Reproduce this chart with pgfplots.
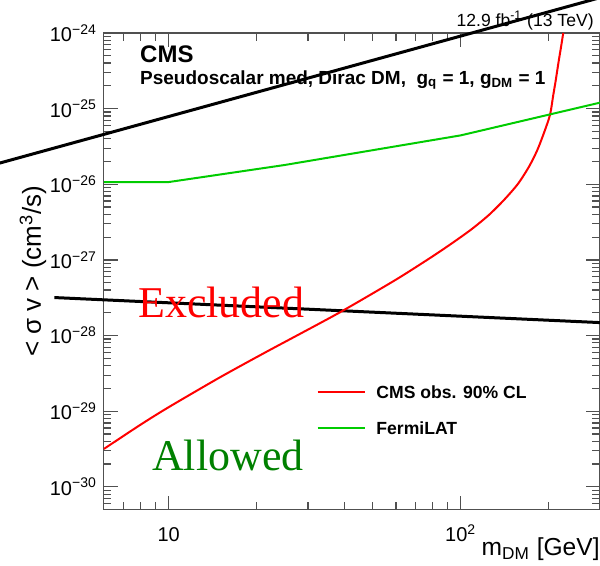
\documentclass[border=0pt]{standalone}
\usepackage{fontspec}
\setmainfont{Liberation Sans}
\newfontfamily\seriffont{Liberation Serif}
\usepackage{pgfplots}
\pgfplotsset{compat=1.18}
\usetikzlibrary{calc}
\definecolor{cmsred}{RGB}{255,0,0}
\definecolor{fermigreen}{RGB}{0,204,0}
\definecolor{allowgreen}{RGB}{0,128,0}
\definecolor{framegray}{RGB}{80,80,80}
\begin{document}
\begin{tikzpicture}
\begin{axis}[
  scale only axis, width=248.3pt, height=238.5pt,
  xmode=log, ymode=log,
  xmin=6, xmax=300, ymin=5.012e-31, ymax=1e-24,
  clip=false,
  axis line style={framegray, line width=0.6pt},
  tick style={framegray, line width=0.6pt},
  tick align=inside,
  major tick length=7pt, minor tick length=3.8pt,
  xtick={10,100}, xticklabels={10,10\textsuperscript{2}},
  minor xtick={7,8,9,20,30,40,50,60,70,80,90,200},
  ytick={1e-30,1e-29,1e-28,1e-27,1e-26,1e-25,1e-24},
  yticklabels={10\textsuperscript{−30},10\textsuperscript{−29},10\textsuperscript{−28},10\textsuperscript{−27},10\textsuperscript{−26},10\textsuperscript{−25},10\textsuperscript{−24}},
  minor ytick={6e-31,7e-31,8e-31,9e-31,
    2e-30,3e-30,4e-30,5e-30,6e-30,7e-30,8e-30,9e-30,
    2e-29,3e-29,4e-29,5e-29,6e-29,7e-29,8e-29,9e-29,
    2e-28,3e-28,4e-28,5e-28,6e-28,7e-28,8e-28,9e-28,
    2e-27,3e-27,4e-27,5e-27,6e-27,7e-27,8e-27,9e-27,
    2e-26,3e-26,4e-26,5e-26,6e-26,7e-26,8e-26,9e-26,
    2e-25,3e-25,4e-25,5e-25,6e-25,7e-25,8e-25,9e-25},
  tick label style={font=\fontsize{10}{12}\selectfont},
  xticklabel style={anchor=base, yshift=-15.9pt},
  xlabel={m\textsubscript{DM} [GeV]},
  xlabel style={at={(axis description cs:1,0)}, anchor=base east, inner sep=0pt, yshift=-23pt, font=\fontsize{12.3}{15}\selectfont},
  ylabel={< σ v > (cm\textsuperscript{3}/s)},
  ylabel style={at={(axis description cs:-0.143,0.5)}, anchor=center, font=\fontsize{13}{15}\selectfont},
  legend style={at={(axis description cs:0.4286,0.2086)}, anchor=west, draw=none, fill=none,
    inner sep=0pt, outer sep=0pt, font=\bfseries\fontsize{8.8}{10}\selectfont,
    row sep=11.8pt, column sep=5pt,
    nodes={inner sep=0pt, text height=6.4pt, text depth=0pt}},
  legend cell align=left,
  legend image code/.code={\draw[#1] (0pt,0pt) -- (24pt,0pt);},
]
% upper black line
\addplot[black, line width=1.5pt, forget plot] coordinates {(2,1.42e-26) (400,3.98e-24)};
% lower black line
\addplot[black, line width=1.5pt, forget plot] coordinates {(4.06,3.18e-28) (400,1.41e-28)};
% CMS observed
\addplot[cmsred, line width=1pt, smooth, tension=0.45] coordinates {
  (6,3.17e-30) (8,6.61e-30) (10,1.13e-29) (15,2.81e-29) (21.5,6.03e-29)
  (28,1.04e-28) (39.3,2.11e-28) (60,5.48e-28) (80,1.11e-27) (95,1.74e-27)
  (109.6,2.59e-27) (125,3.94e-27) (140.8,6.22e-27) (157,1.01e-26) (171.4,1.71e-26)
  (183,2.83e-26) (192.9,4.79e-26) (202.2,8.26e-26) (207.5,1.51e-25) (211.5,2.34e-25)
  (216,3.98e-25) (220.1,6.17e-25) (224.5,1e-24)};
\addlegendentry{CMS obs. 90\% CL}
% FermiLAT
\addplot[fermigreen, line width=1pt] coordinates {
  (6,1.07e-26) (10,1.07e-26) (25,1.8e-26) (100,4.43e-26) (300,1.2e-25)};
\addlegendentry{FermiLAT}

\node[anchor=base west, inner sep=0pt, font=\bfseries\fontsize{12}{14}\selectfont] at (axis description cs:0.0724,0.939) {CMS};
\node[anchor=base west, inner sep=0pt, font=\bfseries\fontsize{9.5}{11}\selectfont] at (axis description cs:0.0724,0.891) {Pseudoscalar med, Dirac DM,\ \ g\textsubscript{q} = 1, g\textsubscript{DM} = 1};
\node[anchor=base east, inner sep=0pt, font=\fontsize{8.8}{10}\selectfont] at (axis description cs:0.988,1.0126) {12.9 fb\textsuperscript{-1} (13 TeV)};
\node[anchor=base west, inner sep=0pt, text=cmsred, font=\seriffont\fontsize{22}{26}\selectfont] at (axis description cs:0.0684,0.4025) {Excluded};
\node[anchor=base west, inner sep=0pt, text=allowgreen, font=\seriffont\fontsize{22}{26}\selectfont] at (axis description cs:0.0966,0.0818) {Allowed};
\end{axis}
\pgfresetboundingbox
\path ($(current axis.south west)+(-52pt,-28pt)$) rectangle ($(current axis.north east)+(0pt,16.5pt)$);
\end{tikzpicture}
\end{document}
